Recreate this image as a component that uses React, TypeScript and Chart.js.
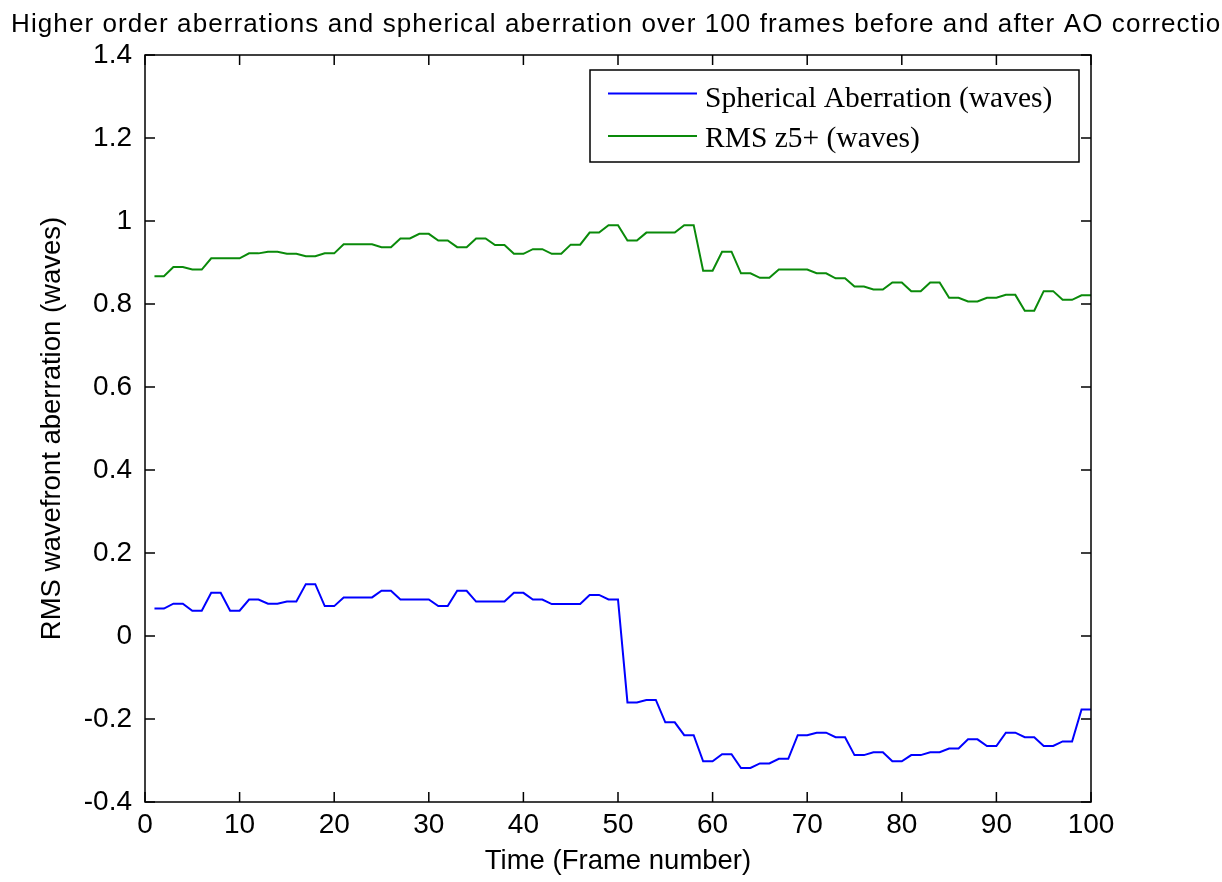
import React, { useEffect, useRef } from "react";
import { Chart, registerables } from "chart.js";

Chart.register(...registerables);

const chartTitle =
  "Higher order aberrations and spherical aberration over 100 frames before and after AO correction";
const xAxisTitle = "Time (Frame number)";
const yAxisTitle = "RMS wavefront aberration (waves)";
const seriesNames = ["Spherical Aberration (waves)", "RMS z5+ (waves)"];
const seriesColors = ["#0000ff", "#0a8a0a"];

const frames = [
  1, 2, 3, 4, 5, 6, 7, 8, 9, 10,
  11, 12, 13, 14, 15, 16, 17, 18, 19, 20,
  21, 22, 23, 24, 25, 26, 27, 28, 29, 30,
  31, 32, 33, 34, 35, 36, 37, 38, 39, 40,
  41, 42, 43, 44, 45, 46, 47, 48, 49, 50,
  51, 52, 53, 54, 55, 56, 57, 58, 59, 60,
  61, 62, 63, 64, 65, 66, 67, 68, 69, 70,
  71, 72, 73, 74, 75, 76, 77, 78, 79, 80,
  81, 82, 83, 84, 85, 86, 87, 88, 89, 90,
  91, 92, 93, 94, 95, 96, 97, 98, 99, 100,
];

const sphericalAberration = [
  0.066, 0.066, 0.078, 0.078, 0.061, 0.061, 0.104, 0.104, 0.061, 0.061,
  0.088, 0.088, 0.078, 0.078, 0.083, 0.083, 0.125, 0.125, 0.072, 0.072,
  0.093, 0.093, 0.093, 0.093, 0.109, 0.109, 0.088, 0.088, 0.088, 0.088,
  0.072, 0.072, 0.109, 0.109, 0.083, 0.083, 0.083, 0.083, 0.104, 0.104,
  0.088, 0.088, 0.077, 0.077, 0.077, 0.077, 0.099, 0.099, 0.088, 0.088,
  -0.160, -0.160, -0.154, -0.154, -0.208, -0.208, -0.239, -0.239, -0.302, -0.302,
  -0.285, -0.285, -0.318, -0.318, -0.307, -0.307, -0.296, -0.296, -0.239, -0.239,
  -0.233, -0.233, -0.244, -0.244, -0.287, -0.287, -0.280, -0.280, -0.302, -0.302,
  -0.287, -0.287, -0.280, -0.280, -0.271, -0.271, -0.249, -0.249, -0.265, -0.265,
  -0.233, -0.233, -0.244, -0.244, -0.265, -0.265, -0.254, -0.254, -0.177, -0.177,
];

const rmsZ5Plus = [
  0.867, 0.867, 0.889, 0.889, 0.883, 0.883, 0.910, 0.910, 0.910, 0.910,
  0.922, 0.922, 0.926, 0.926, 0.921, 0.921, 0.915, 0.915, 0.922, 0.922,
  0.944, 0.944, 0.944, 0.944, 0.937, 0.937, 0.958, 0.958, 0.969, 0.969,
  0.953, 0.953, 0.937, 0.937, 0.958, 0.958, 0.942, 0.942, 0.921, 0.921,
  0.932, 0.932, 0.921, 0.921, 0.943, 0.943, 0.972, 0.972, 0.990, 0.990,
  0.953, 0.953, 0.972, 0.972, 0.972, 0.972, 0.990, 0.990, 0.880, 0.880,
  0.926, 0.926, 0.874, 0.874, 0.863, 0.863, 0.883, 0.883, 0.883, 0.883,
  0.874, 0.874, 0.862, 0.862, 0.842, 0.842, 0.835, 0.835, 0.852, 0.852,
  0.831, 0.831, 0.852, 0.852, 0.815, 0.815, 0.806, 0.806, 0.815, 0.815,
  0.822, 0.822, 0.784, 0.784, 0.831, 0.831, 0.810, 0.810, 0.821, 0.821,
];

const xTickValues = [0, 10, 20, 30, 40, 50, 60, 70, 80, 90, 100];
const xTickLabels = ["0", "10", "20", "30", "40", "50", "60", "70", "80", "90", "100"];
const yTickValues = [-0.4, -0.2, 0, 0.2, 0.4, 0.6, 0.8, 1, 1.2, 1.4];
const yTickLabels = ["-0.4", "-0.2", "0", "0.2", "0.4", "0.6", "0.8", "1", "1.2", "1.4"];

const SANS = '"Liberation Sans", Arial, sans-serif';
const SERIF = '"Liberation Serif", "Times New Roman", serif';

function labelFor(values: number[], labels: string[], v: number): string {
  for (let i = 0; i < values.length; i++) {
    if (Math.abs(values[i] - v) < 1e-9) return labels[i];
  }
  return "";
}

const framePlugin = {
  id: "matlabFrame",
  afterDatasetsDraw(chart: any) {
    const { ctx, chartArea } = chart;
    const { left, right, top, bottom } = chartArea;
    const xs = chart.scales.x;
    const ys = chart.scales.y;
    ctx.save();
    ctx.strokeStyle = "#000";
    ctx.lineWidth = 1.5;
    ctx.strokeRect(left, top, right - left, bottom - top);
    const L = 10;
    ctx.beginPath();
    xTickValues.forEach((v) => {
      const px = xs.getPixelForValue(v);
      ctx.moveTo(px, bottom);
      ctx.lineTo(px, bottom - L);
      ctx.moveTo(px, top);
      ctx.lineTo(px, top + L);
    });
    yTickValues.forEach((v) => {
      const py = ys.getPixelForValue(v);
      ctx.moveTo(left, py);
      ctx.lineTo(left + L, py);
      ctx.moveTo(right, py);
      ctx.lineTo(right - L, py);
    });
    ctx.stroke();
    ctx.restore();
  },
};

const annotationPlugin = {
  id: "titleAndLegend",
  afterDraw(chart: any) {
    const { ctx } = chart;
    ctx.save();
    ctx.fillStyle = "#000";
    ctx.font = `26px ${SANS}`;
    ctx.textAlign = "left";
    ctx.textBaseline = "alphabetic";
    const w = ctx.measureText(chartTitle).width;
    const target = 1226;
    if ("letterSpacing" in ctx) {
      const ls = Math.max(0, (target - w) / chartTitle.length);
      (ctx as any).letterSpacing = `${ls}px`;
      ctx.fillText(chartTitle, 11, 32);
    } else {
      ctx.translate(11, 32);
      ctx.scale(target / w, 1);
      ctx.fillText(chartTitle, 0, 0);
    }
    ctx.restore();

    ctx.save();
    const bx = 590, by = 70, bw = 489, bh = 92;
    ctx.fillStyle = "#fff";
    ctx.fillRect(bx, by, bw, bh);
    ctx.strokeStyle = "#000";
    ctx.lineWidth = 1.5;
    ctx.strokeRect(bx, by, bw, bh);
    const lineYs = [93.5, 136];
    const baseYs = [106.5, 147];
    ctx.font = `29.5px ${SERIF}`;
    ctx.textAlign = "left";
    ctx.textBaseline = "alphabetic";
    seriesNames.forEach((name, i) => {
      ctx.strokeStyle = seriesColors[i];
      ctx.lineWidth = 2;
      ctx.beginPath();
      ctx.moveTo(608, lineYs[i]);
      ctx.lineTo(697, lineYs[i]);
      ctx.stroke();
      ctx.fillStyle = "#000";
      ctx.fillText(name, 705, baseYs[i]);
    });
    ctx.restore();
  },
};

export default function App() {
  const canvasRef = useRef<HTMLCanvasElement | null>(null);

  useEffect(() => {
    const canvas = canvasRef.current;
    if (!canvas) return;
    const chart = new Chart(canvas, {
      type: "line",
      data: {
        datasets: [
          {
            label: seriesNames[0],
            data: frames.map((f, i) => ({ x: f, y: sphericalAberration[i] })),
            borderColor: seriesColors[0],
            backgroundColor: seriesColors[0],
            borderWidth: 2,
            pointRadius: 0,
            tension: 0,
            fill: false,
          },
          {
            label: seriesNames[1],
            data: frames.map((f, i) => ({ x: f, y: rmsZ5Plus[i] })),
            borderColor: seriesColors[1],
            backgroundColor: seriesColors[1],
            borderWidth: 2,
            pointRadius: 0,
            tension: 0,
            fill: false,
          },
        ],
      },
      options: {
        animation: false,
        responsive: false,
        maintainAspectRatio: false,
        devicePixelRatio: 1,
        layout: { padding: { left: 0, right: 131, top: 55, bottom: 0 } },
        plugins: {
          legend: { display: false },
          title: { display: false },
          tooltip: { enabled: false },
        },
        scales: {
          x: {
            type: "linear",
            min: 0,
            max: 100,
            afterBuildTicks: (s: any) => {
              s.ticks = xTickValues.map((v) => ({ value: v }));
            },
            afterFit: (s: any) => {
              s.height = 80;
            },
            grid: { display: false, drawTicks: false },
            border: { display: false },
            ticks: {
              autoSkip: false,
              maxRotation: 0,
              padding: 6,
              color: "#000",
              font: { family: SANS, size: 28 },
              callback: (v: any) => labelFor(xTickValues, xTickLabels, Number(v)),
            },
            title: {
              display: true,
              text: xAxisTitle,
              color: "#000",
              font: { family: SANS, size: 27.5 },
              padding: { top: 0, bottom: 4 },
            },
          },
          y: {
            type: "linear",
            min: -0.4,
            max: 1.4,
            afterBuildTicks: (s: any) => {
              s.ticks = yTickValues.map((v) => ({ value: v }));
            },
            afterFit: (s: any) => {
              s.width = 145;
            },
            grid: { display: false, drawTicks: false },
            border: { display: false },
            ticks: {
              autoSkip: false,
              padding: 13,
              color: "#000",
              font: { family: SANS, size: 28 },
              callback: (v: any) => labelFor(yTickValues, yTickLabels, Number(v)),
            },
            title: {
              display: true,
              text: yAxisTitle,
              color: "#000",
              font: { family: SANS, size: 27.5 },
              padding: { top: 36, bottom: 0 },
            },
          },
        },
      },
      plugins: [framePlugin, annotationPlugin],
    });
    return () => chart.destroy();
  }, []);

  return (
    <div style={{ position: "absolute", left: 0, top: 0, width: 1222, height: 882, background: "#fff" }}>
      <canvas ref={canvasRef} width={1222} height={882} style={{ display: "block", width: 1222, height: 882 }} />
    </div>
  );
}
